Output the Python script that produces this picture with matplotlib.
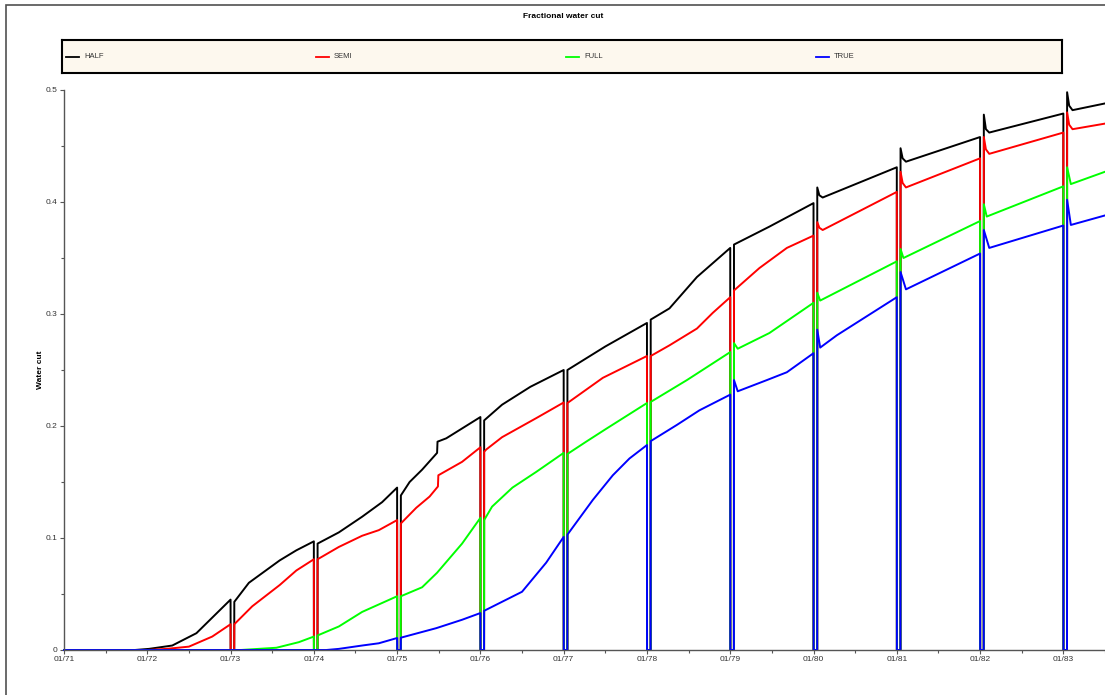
import numpy as np
import matplotlib.pyplot as plt
from matplotlib.patches import Rectangle
from matplotlib.ticker import MultipleLocator, FixedLocator

plt.rcParams['font.family'] = ['Liberation Sans', 'DejaVu Sans']

# ---- data (decimal years, fractional water cut) ----
names = ['HALF', 'SEMI', 'FULL', 'TRUE']
colors = ['#000000', '#ff0000', '#00ff00', '#0000ff']
shutdown_years = list(range(1973, 1984))   # wells shut in each January
year_ticks = list(range(1971, 1984))

half_t = [1971.0, 1971.85, 1972.02, 1972.3, 1972.59, 1973.0,
          1973.045, 1973.22, 1973.59, 1973.79, 1974.0,
          1974.045, 1974.3, 1974.58, 1974.82, 1975.0,
          1975.045, 1975.15, 1975.3, 1975.48, 1975.485, 1975.59, 1976.0,
          1976.045, 1976.26, 1976.6, 1977.0,
          1977.045, 1977.5, 1978.0,
          1978.045, 1978.27, 1978.6, 1979.0,
          1979.045, 1979.47, 1980.0,
          1980.045, 1980.07, 1980.11, 1981.0,
          1981.045, 1981.07, 1981.11, 1982.0,
          1982.045, 1982.07, 1982.11, 1983.0,
          1983.045, 1983.07, 1983.11, 1983.5]
half_v = [0.0, 0.0, 0.001, 0.004, 0.015, 0.045,
          0.043, 0.060, 0.080, 0.089, 0.097,
          0.095, 0.105, 0.119, 0.132, 0.145,
          0.138, 0.150, 0.161, 0.176, 0.186, 0.189, 0.208,
          0.205, 0.219, 0.235, 0.250,
          0.250, 0.271, 0.292,
          0.295, 0.305, 0.333, 0.359,
          0.362, 0.378, 0.399,
          0.413, 0.406, 0.404, 0.431,
          0.448, 0.439, 0.436, 0.458,
          0.478, 0.465, 0.462, 0.479,
          0.498, 0.486, 0.482, 0.488]

semi_t = [1971.0, 1972.0, 1972.23, 1972.5, 1972.78, 1973.0,
          1973.045, 1973.26, 1973.59, 1973.79, 1974.0,
          1974.045, 1974.3, 1974.58, 1974.78, 1975.0,
          1975.045, 1975.23, 1975.39, 1975.49, 1975.495, 1975.78, 1976.0,
          1976.045, 1976.07, 1976.26, 1976.67, 1977.0,
          1977.045, 1977.47, 1978.0,
          1978.045, 1978.27, 1978.6, 1978.79, 1979.0,
          1979.045, 1979.35, 1979.68, 1980.0,
          1980.045, 1980.07, 1980.11, 1981.0,
          1981.045, 1981.07, 1981.11, 1982.0,
          1982.045, 1982.07, 1982.11, 1983.0,
          1983.045, 1983.07, 1983.11, 1983.5]
semi_v = [0.0, 0.0, 0.001, 0.003, 0.012, 0.023,
          0.023, 0.039, 0.058, 0.071, 0.081,
          0.081, 0.092, 0.102, 0.107, 0.116,
          0.113, 0.127, 0.137, 0.146, 0.156, 0.168, 0.181,
          0.177, 0.179, 0.190, 0.207, 0.221,
          0.2205, 0.243, 0.2625,
          0.2625, 0.272, 0.287, 0.301, 0.315,
          0.321, 0.341, 0.359, 0.370,
          0.382, 0.377, 0.375, 0.409,
          0.427, 0.417, 0.413, 0.439,
          0.458, 0.447, 0.443, 0.462,
          0.480, 0.469, 0.465, 0.470]

full_t = [1971.0, 1973.12, 1973.55, 1973.82, 1974.0,
          1974.045, 1974.3, 1974.58, 1974.82, 1975.0,
          1975.045, 1975.3, 1975.48, 1975.78, 1976.0,
          1976.045, 1976.14, 1976.385, 1976.67, 1977.0,
          1977.045, 1977.27, 1977.5, 1978.0,
          1978.045, 1978.48, 1979.0,
          1979.045, 1979.09, 1979.47, 1980.0,
          1980.045, 1980.08, 1981.0,
          1981.045, 1981.08, 1982.0,
          1982.045, 1982.08, 1983.0,
          1983.045, 1983.09, 1983.5]
full_v = [0.0, 0.0, 0.002, 0.007, 0.012,
          0.013, 0.021, 0.034, 0.042, 0.048,
          0.048, 0.056, 0.069, 0.095, 0.118,
          0.116, 0.128, 0.145, 0.159, 0.176,
          0.175, 0.186, 0.197, 0.2205,
          0.2215, 0.241, 0.266,
          0.274, 0.269, 0.283, 0.310,
          0.319, 0.312, 0.347,
          0.358, 0.350, 0.383,
          0.398, 0.387, 0.414,
          0.431, 0.416, 0.427]

true_t = [1971.0, 1974.15, 1974.3, 1974.58, 1974.78, 1975.0,
          1975.045, 1975.47, 1975.78, 1976.0,
          1976.045, 1976.5, 1976.79, 1977.0,
          1977.045, 1977.35, 1977.59, 1977.79, 1978.0,
          1978.045, 1978.36, 1978.63, 1979.0,
          1979.045, 1979.09, 1979.23, 1979.44, 1979.68, 1980.0,
          1980.045, 1980.08, 1980.28, 1981.0,
          1981.045, 1981.11, 1982.0,
          1982.045, 1982.11, 1983.0,
          1983.045, 1983.09, 1983.5]
true_v = [0.0, 0.0, 0.001, 0.004, 0.006, 0.0107,
          0.011, 0.0195, 0.027, 0.033,
          0.035, 0.052, 0.078, 0.101,
          0.103, 0.134, 0.156, 0.171, 0.183,
          0.1865, 0.201, 0.214, 0.228,
          0.241, 0.231, 0.235, 0.241, 0.248, 0.265,
          0.286, 0.270, 0.281, 0.315,
          0.3375, 0.322, 0.354,
          0.375, 0.359, 0.379,
          0.402, 0.3795, 0.388]


def add_shutdowns(t, v, years, gap=0.045):
    # water cut is zero while the well is shut in at the start of each year
    pts = list(zip(t, v))
    for y in years:
        pts += [(y + 0.001, 0.0), (y + gap - 0.001, 0.0)]
    pts.sort()
    return np.array(pts).T


series = [(half_t, half_v), (semi_t, semi_v), (full_t, full_v), (true_t, true_v)]

W, H = 1105, 695
fig = plt.figure(figsize=(W / 100, H / 100), dpi=100)

# outer frame
fig.add_artist(Rectangle((6 / W, -0.1), 1.2, 1 - 5 / H + 0.1, transform=fig.transFigure,
                         fill=False, edgecolor='#505050', lw=1.2))

fig.text(563 / W, 1 - 16 / H, 'Fractional water cut', ha='center', va='center',
         fontsize=6, fontweight='bold')

# legend strip
lax = fig.add_axes([62 / W, 1 - 73 / H, 1000 / W, 33 / H])
lax.set_facecolor('#fdf8ee')
lax.set_xlim(0, 1)
lax.set_ylim(0, 1)
lax.set_xticks([])
lax.set_yticks([])
for s in lax.spines.values():
    s.set_linewidth(1.5)
for i, (name, c) in enumerate(zip(names, colors)):
    x0 = 0.004 + 0.25 * i
    lax.plot([x0, x0 + 0.013], [0.5, 0.5], color=c, lw=1.3)
    lax.text(x0 + 0.018, 0.5, name, fontsize=5.5, va='center', color='#333333')

# main plot
ax = fig.add_axes([64 / W, 45 / H, (W - 64) / W, 560 / H])
for (t, v), c in zip(series, colors):
    tt, vv = add_shutdowns(t, v, shutdown_years)
    ax.plot(tt, vv, color=c, lw=1.4, clip_on=False)

ax.set_xlim(1971, 1983.5)
ax.set_ylim(0, 0.5)
for side in ['top', 'right']:
    ax.spines[side].set_visible(False)
for side in ['left', 'bottom']:
    ax.spines[side].set_color('#555555')
    ax.spines[side].set_linewidth(1.0)

ax.xaxis.set_major_locator(FixedLocator(year_ticks))
ax.set_xticklabels(['01/%02d' % (y % 100) for y in year_ticks])
ax.xaxis.set_minor_locator(FixedLocator([y + 0.5 for y in year_ticks]))
ax.yaxis.set_major_locator(MultipleLocator(0.1))
ax.yaxis.set_minor_locator(MultipleLocator(0.05))
ax.set_yticks([0, 0.1, 0.2, 0.3, 0.4, 0.5])
ax.set_yticklabels(['0', '0.1', '0.2', '0.3', '0.4', '0.5'])
ax.tick_params(which='both', direction='out', color='#555555', labelcolor='#333333',
               labelsize=6, pad=1.5, width=0.8)
ax.tick_params(which='major', length=3)
ax.tick_params(which='minor', length=2)

fig.text(40 / W, 1 - 370 / H, 'Water cut', rotation=90, ha='center', va='center',
         fontsize=6, fontweight='bold')

fig.savefig('out.png', dpi=100)
